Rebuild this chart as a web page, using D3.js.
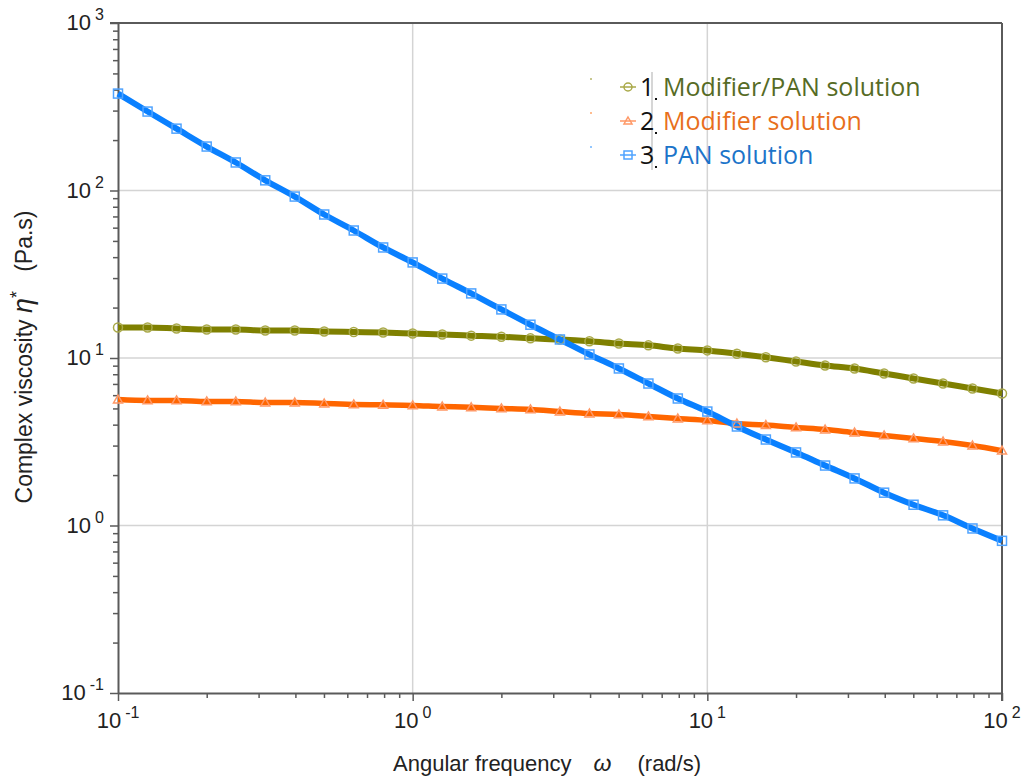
<!DOCTYPE html>
<html>
<head>
<meta charset="utf-8">
<script src="https://cdn.jsdelivr.net/npm/d3@7/dist/d3.min.js"></script>
<style>
  body { margin: 0; background: #fff; }
  svg { display: block; }
  .tick-label { font-family: "Liberation Sans", Arial, sans-serif; font-size: 22px; fill: #222; }
  .axis-title { font-family: "Liberation Sans", Arial, sans-serif; font-size: 22px; fill: #222; }
  .legend-text { font-family: "Open Sans", sans-serif; font-size: 25px; }
</style>
</head>
<body>
<svg width="1025" height="777"></svg>
<script>
var width = 1025;
var height = 777;
var margin = {left: 118, right: 23, top: 23, bottom: 84};

// angular frequency, rad/s (10 points per decade)
var freq = [0.1, 0.126, 0.158, 0.2, 0.251, 0.316, 0.398, 0.501, 0.631, 0.794,
            1, 1.26, 1.58, 2, 2.51, 3.16, 3.98, 5.01, 6.31, 7.94,
            10, 12.6, 15.8, 20, 25.1, 31.6, 39.8, 50.1, 63.1, 79.4, 100];

// complex viscosity, Pa.s
var modPan = [15.2, 15.2, 15.0, 14.8, 14.8, 14.6, 14.6, 14.4, 14.3, 14.2,
              14.0, 13.8, 13.6, 13.4, 13.1, 12.9, 12.6, 12.2, 11.9, 11.4,
              11.1, 10.6, 10.1, 9.53, 9.02, 8.66, 8.08, 7.55, 7.04, 6.58, 6.14];
var modifier = [5.65, 5.58, 5.58, 5.50, 5.50, 5.42, 5.42, 5.35, 5.28, 5.25,
                5.21, 5.13, 5.08, 5.00, 4.93, 4.79, 4.66, 4.60, 4.48, 4.35,
                4.24, 4.06, 3.98, 3.85, 3.74, 3.59, 3.45, 3.31, 3.17, 3.00, 2.80];
var pan = [379, 296, 234, 183, 147, 115, 92, 71.9, 57.7, 45.7,
           37.2, 29.8, 24.3, 19.5, 15.8, 12.9, 10.5, 8.66, 7.04, 5.73,
           4.79, 3.90, 3.26, 2.73, 2.28, 1.91, 1.57, 1.33, 1.15, 0.96, 0.81];

var seriesNames = ["Modifier/PAN solution", "Modifier solution", "PAN solution"];
var seriesNums = ["1", "2", "3"];
var lineColors = ["#7f8000", "#ff6600", "#0a80ff"];
var markColors = ["#a9a948", "#ff9866", "#4fa3ff"];
var textColors = ["#566b25", "#e86f1c", "#1c74c9"];
var markShapes = ["circle", "triangle", "square"];

var xDecades = [0.1, 1, 10, 100];
var yDecades = [0.1, 1, 10, 100, 1000];

var svg = d3.select("svg");

var xScale = d3.scaleLog().domain([0.1, 100]).range([margin.left, width - margin.right]);
var yScale = d3.scaleLog().domain([0.1, 1000]).range([height - margin.bottom, margin.top]);

var x0 = xScale.range()[0], x1 = xScale.range()[1];
var y0 = yScale.range()[0], y1 = yScale.range()[1];

// grid
svg.append("g").selectAll("line")
  .data(xDecades.slice(1, -1))
  .enter().append("line")
  .attr("x1", function(d) { return xScale(d); })
  .attr("x2", function(d) { return xScale(d); })
  .attr("y1", y0).attr("y2", y1)
  .attr("stroke", "#d4d4d4").attr("stroke-width", 1.5);

svg.append("g").selectAll("line")
  .data(yDecades.slice(1, -1))
  .enter().append("line")
  .attr("y1", function(d) { return yScale(d); })
  .attr("y2", function(d) { return yScale(d); })
  .attr("x1", x0).attr("x2", x1)
  .attr("stroke", "#d4d4d4").attr("stroke-width", 1.5);

// axes with minor ticks
var xTicks = xScale.ticks();
var yTicks = yScale.ticks();

var axisBottom = d3.axisBottom(xScale).tickValues(xTicks).tickFormat("")
  .tickSize(5).tickSizeOuter(0);
var axisLeft = d3.axisLeft(yScale).tickValues(yTicks).tickFormat("")
  .tickSize(5).tickSizeOuter(0);

var gx = svg.append("g")
  .attr("transform", "translate(0," + y0 + ")")
  .call(axisBottom);
var gy = svg.append("g")
  .attr("transform", "translate(" + x0 + ",0)")
  .call(axisLeft);

[gx, gy].forEach(function(g) {
  g.select(".domain").attr("stroke", "#5a5a5a").attr("stroke-width", 2);
  g.selectAll(".tick line").attr("stroke", "#5a5a5a").attr("stroke-width", 1.5);
});
gx.selectAll(".tick line").filter(function(d) { return xDecades.indexOf(d) >= 0; }).attr("y2", 8);
gy.selectAll(".tick line").filter(function(d) { return yDecades.indexOf(d) >= 0; }).attr("x2", -8);

// top and right frame
svg.append("line").attr("x1", x0 - 8).attr("x2", x1).attr("y1", y1).attr("y2", y1)
  .attr("stroke", "#5a5a5a").attr("stroke-width", 2);
svg.append("line").attr("x1", x1).attr("x2", x1).attr("y1", y1).attr("y2", y0 + 8)
  .attr("stroke", "#5a5a5a").attr("stroke-width", 2);

// tick labels 10^n
function expOf(d) { return Math.round(Math.log10(d)); }

svg.append("g").selectAll("text")
  .data(xDecades)
  .enter().append("text")
  .attr("class", "tick-label")
  .attr("x", function(d) { return xScale(d); })
  .attr("y", y0 + 35)
  .attr("text-anchor", "middle")
  .each(function(d) {
    var t = d3.select(this);
    t.append("tspan").text("10");
    t.append("tspan").attr("dx", 4).attr("dy", -10).style("font-size", "16px").text(expOf(d) < 0 ? "-" + (-expOf(d)) : expOf(d));
  });

svg.append("g").selectAll("text")
  .data(yDecades)
  .enter().append("text")
  .attr("class", "tick-label")
  .attr("x", x0 - 14)
  .attr("y", function(d) { return yScale(d) + 7; })
  .attr("text-anchor", "end")
  .each(function(d) {
    var t = d3.select(this);
    t.append("tspan").text("10");
    t.append("tspan").attr("dx", 4).attr("dy", -10).style("font-size", "16px").text(expOf(d) < 0 ? "-" + (-expOf(d)) : expOf(d));
  });

// axis titles
var xt = svg.append("text")
  .attr("class", "axis-title")
  .attr("x", 393)
  .attr("y", 771)
  .attr("xml:space", "preserve");
xt.append("tspan").text("Angular frequency");
xt.append("tspan").attr("dx", 22).style("font-style", "italic").style("font-size", "23px").text("\u03c9");
xt.append("tspan").attr("dx", 26).text("(rad/s)");

var yt = svg.append("text")
  .attr("class", "axis-title")
  .attr("transform", "translate(32," + 357 + ") rotate(-90)")
  .attr("text-anchor", "middle")
  .style("font-size", "23px")
  .attr("xml:space", "preserve");
yt.append("tspan").text("Complex viscosity ");
yt.append("tspan").style("font-style", "italic").style("font-size", "27px").text("\u03b7");
yt.append("tspan").attr("dy", -9).style("font-size", "18px").text("*");
yt.append("tspan").attr("dy", 9).text("   (Pa.s)");

// series
var seriesVals = [modPan, modifier, pan];
var widths = [6, 5.5, 6];

var line = d3.line()
  .x(function(d) { return xScale(d[0]); })
  .y(function(d) { return yScale(d[1]); })
  .curve(d3.curveMonotoneX);

function drawMarker(g, shape, cx, cy, color, s) {
  if (shape == "circle") {
    g.append("circle").attr("cx", cx).attr("cy", cy).attr("r", s)
      .attr("fill", "none").attr("stroke", color).attr("stroke-width", 1.5);
  } else if (shape == "square") {
    g.append("rect").attr("x", cx - s).attr("y", cy - s).attr("width", 2 * s).attr("height", 2 * s)
      .attr("fill", "none").attr("stroke", color).attr("stroke-width", 1.5);
  } else {
    g.append("path")
      .attr("d", "M" + cx + "," + (cy - s) + "L" + (cx + s) + "," + (cy + s * 0.75) + "L" + (cx - s) + "," + (cy + s * 0.75) + "Z")
      .attr("fill", "none").attr("stroke", color).attr("stroke-width", 1.5);
  }
}

seriesVals.forEach(function(vals, i) {
  var pts = freq.map(function(f, j) { return [f, vals[j]]; });
  svg.append("path")
    .datum(pts)
    .attr("d", line)
    .attr("fill", "none")
    .attr("stroke", lineColors[i])
    .attr("stroke-width", widths[i])
    .attr("stroke-linejoin", "round");
});

seriesVals.forEach(function(vals, i) {
  var g = svg.append("g");
  freq.forEach(function(f, j) {
    drawMarker(g, markShapes[i], xScale(f), yScale(vals[j]), markColors[i], 4.5);
  });
});

// legend
var legend = svg.append("g");
legend.append("line").attr("x1", 652).attr("x2", 652).attr("y1", 72).attr("y2", 170)
  .attr("stroke", "#c8c8c8").attr("stroke-width", 1.5);

seriesNames.forEach(function(name, i) {
  var cy = 87 + i * 34;
  legend.append("circle").attr("cx", 591).attr("cy", cy - 8).attr("r", 0.8).attr("fill", lineColors[i]);
  legend.append("line").attr("x1", 620).attr("x2", 636).attr("y1", cy).attr("y2", cy)
    .attr("stroke", markColors[i]).attr("stroke-width", 1.5);
  drawMarker(legend, markShapes[i], 628, cy, markColors[i], 4);
  legend.append("text").attr("class", "legend-text")
    .attr("x", 640).attr("y", cy + 9).attr("fill", "#111").text(seriesNums[i]);
  legend.append("rect").attr("x", 655).attr("y", cy + 11).attr("width", 2).attr("height", 2).attr("fill", "#111");
  legend.append("text").attr("class", "legend-text")
    .attr("x", 663).attr("y", cy + 9).attr("fill", textColors[i]).text(name);
});
</script>
</body>
</html>
